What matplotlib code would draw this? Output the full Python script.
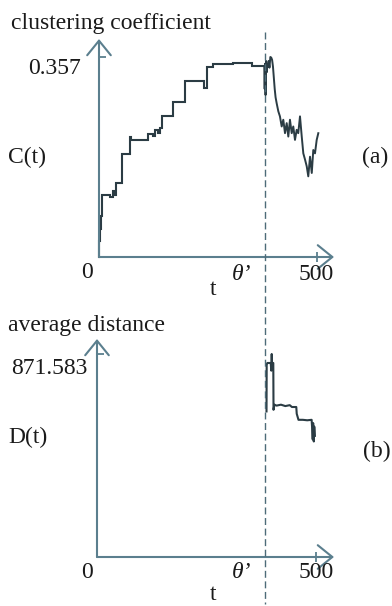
import matplotlib
matplotlib.use("Agg")
import matplotlib.pyplot as plt
from matplotlib.lines import Line2D

plt.rcParams['font.family'] = ['Liberation Serif', 'DejaVu Serif']

# ---------------- data ----------------
theta = 380
t_max = 500
c_max = 0.357
d_max = 871.583

stair_t = [0, 1.0, 2.3, 5.7, 8, 25, 32, 36.7, 39, 53.4, 71, 72.5, 113, 124, 128.4,
           135, 140, 143.8, 170.4, 197.2, 240.8, 248.4, 260.8, 308, 350.2, 379]
stair_c = [0, 0.028, 0.050, 0.073, 0.111, 0.107, 0.117, 0.111, 0.132, 0.184, 0.215,
           0.209, 0.220, 0.216, 0.227, 0.222, 0.230, 0.251, 0.276, 0.315, 0.301,
           0.340, 0.344, 0.347, 0.341, 0.341]

noise_t = [379, 380, 381, 382, 383, 385, 386, 388, 389, 391, 393, 395, 397, 399, 401,
           403, 405, 407.6, 411.3, 415, 419, 422.7, 426.6, 430.5, 434.2, 438, 442,
           445.6, 449.5, 453.4, 457, 461, 465, 468.6, 472.5, 476.4, 480, 484, 488,
           491.5, 495.4, 499.3, 503]
noise_c = [0.341, 0.30, 0.345, 0.289, 0.35, 0.33, 0.345, 0.34, 0.35, 0.338, 0.357,
           0.356, 0.352, 0.34, 0.32, 0.30, 0.285, 0.274, 0.260, 0.251, 0.233, 0.245,
           0.221, 0.239, 0.215, 0.245, 0.221, 0.233, 0.209, 0.227, 0.221, 0.251,
           0.215, 0.185, 0.174, 0.162, 0.144, 0.179, 0.150, 0.191, 0.185, 0.209, 0.221]

dist_t = [387, 387.4, 389, 396.6, 398, 398.9, 399.5, 401, 402.5, 403, 405, 410, 420,
          430, 440, 445, 455, 456, 460, 470, 480, 490, 491, 492.5, 493.5, 495, 496, 497.5]
dist_d = [625, 826, 833, 833, 800, 871.583, 830, 833, 833, 632, 654, 650, 654,
          648, 652, 644, 644, 615, 589, 589, 587, 589, 560, 505, 575, 496, 560, 520]

# ---------------- style ----------------
W, H = 392, 606
axis_col = '#5b7f8e'
curve_col = '#2b3c44'
dash_col = '#4d6b78'
text_col = '#1a1a1a'
FS = 17

fig = plt.figure(figsize=(W / 100, H / 100), dpi=100)
fig.patch.set_facecolor('white')


def fx(x):
    return x / W


def fy(y):
    return 1 - y / H


def make_axes(left, right, base, top, xscale, ymax_val, ypix):
    ax = fig.add_axes([fx(left), fy(base), (right - left) / W, (base - top) / H])
    ax.set_xlim(0, (right - left) / xscale)
    ax.set_ylim(0, (base - top) / ypix * ymax_val)
    for s in ax.spines.values():
        s.set_visible(False)
    ax.patch.set_alpha(0)
    ax.set_xticks([t_max])
    ax.set_yticks([ymax_val])
    ax.tick_params(axis='x', direction='inout', length=7, width=1.3, color=axis_col,
                   labelbottom=False)
    ax.tick_params(axis='y', direction='in', length=5, width=1.3, color=axis_col,
                   labelleft=False)
    arrow = dict(arrowstyle='->,head_length=1.05,head_width=0.85', lw=1.5,
                 color=axis_col, shrinkA=0, shrinkB=0, mutation_scale=10)
    ax.annotate('', xy=(1, 0), xytext=(0, 0), xycoords='axes fraction',
                textcoords='axes fraction', arrowprops=arrow)
    ax.annotate('', xy=(0, 1), xytext=(0, 0), xycoords='axes fraction',
                textcoords='axes fraction', arrowprops=arrow)
    return ax


# top panel: 0 at x=99, 500 at x=317; 0 at y=257, 0.357 at y=57
ax1 = make_axes(99, 334, 257, 39, (317 - 99) / t_max, c_max, (257 - 57))
ax1.plot(stair_t, stair_c, drawstyle='steps-post', color=curve_col, lw=1.5,
         clip_on=False, solid_joinstyle='miter')
ax1.plot(noise_t, noise_c, color=curve_col, lw=1.4, clip_on=False)

# bottom panel: 0 at x=97, 500 at x=316; 0 at y=557, 871.583 at y=354
ax2 = make_axes(97, 334, 557, 339, (316 - 97) / t_max, d_max, (557 - 354))
ax2.plot(dist_t, dist_d, color=curve_col, lw=1.5, clip_on=False)

# dashed theta' line spanning both panels
xd = ax1.transData.transform((theta, 0))[0]
xd_fig = fig.transFigure.inverted().transform((xd, 0))[0]
fig.add_artist(Line2D([xd_fig, xd_fig], [fy(32), fy(604)], transform=fig.transFigure,
                      color=dash_col, lw=1.0, dashes=(5, 2.6)))


def txt(x, y, s, ha='center', va='center', **kw):
    fig.text(fx(x), fy(y), s, ha=ha, va=va, fontsize=FS, color=text_col, **kw)


# top texts
txt(11, 28.5, 'clustering coefficient', ha='left', va='baseline')
txt(28, 68, '0.357', ha='left')
txt(8, 157, 'C(t)', ha='left')
txt(362, 157, '(a)', ha='left')
txt(87, 272, '0')
txt(242, 274, 'θ’', style='italic')
txt(316, 274, '500')
txt(213, 289, 't')

# bottom texts
txt(8, 331, 'average distance', ha='left', va='baseline')
txt(11, 368, '871.583', ha='left')
txt(8, 437, 'D(t)', ha='left')
txt(363, 451, '(b)', ha='left')
txt(87, 572, '0')
txt(242, 573, 'θ’', style='italic')
txt(316, 573, '500')
txt(213, 594, 't')

fig.savefig('out.png', dpi=100, facecolor='white')
